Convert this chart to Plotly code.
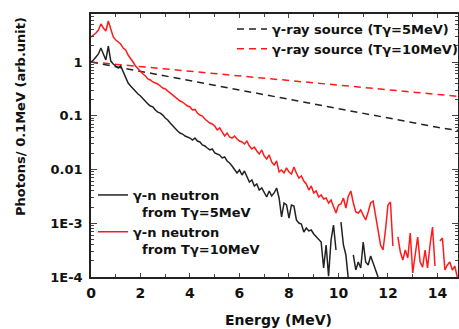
import numpy as np
import plotly.graph_objects as go

# Energy grid for neutron spectra (MeV)
energy = [round(0.1 * i, 1) for i in range(149)]

# gamma-n neutron spectrum, T_gamma = 10 MeV (red)
neutron_10 = [
    2.92, 3.18, 3.46, 3.94, 5.09, 4.29, 3.77, 5.79, 3.94, 2.92,
    2.57, 2.36, 2.16, 1.82, 1.67, 1.35, 1.19, 1.00, 0.843, 0.741,
    0.652, 0.598, 0.549, 0.483, 0.463, 0.425, 0.407, 0.390, 0.358, 0.328,
    0.315, 0.289, 0.265, 0.243, 0.223, 0.205, 0.188, 0.180, 0.166, 0.152,
    0.146, 0.128, 0.131, 0.112, 0.103, 0.0989, 0.0870, 0.0798, 0.0733, 0.0702,
    0.0645, 0.0543, 0.0592, 0.0499, 0.0420, 0.0478, 0.0402, 0.0385, 0.0420, 0.0369,
    0.0339, 0.0325, 0.0298, 0.0339, 0.0274, 0.0241, 0.0262, 0.0221, 0.0194, 0.0231,
    0.0178, 0.0157, 0.0186, 0.0138, 0.0121, 0.0144, 0.00898, 0.00979, 0.00861, 0.0107,
    0.00898, 0.00824, 0.0111, 0.00861, 0.00695, 0.00757, 0.00611, 0.00537, 0.00415, 0.00493,
    0.00366, 0.00398, 0.00308, 0.00336, 0.00283, 0.00295, 0.00238, 0.00271, 0.00209, 0.00155,
    0.00219, 0.00228, 0.00295, 0.00192, 0.00322, 0.00398, 0.00238, 0.00162, 0.00155, 0.00177,
    0.00142, 0.00115, 0.00162, 0.00238, 0.00259, 0.00125, 0.000748, 0.000394, 0.000318, 0.000748,
    0.00219, 0.00248, 0.000378, None, 0.000555, 0.000292, 0.000207, 0.000318, 0.000226, 0.000659,
    0.000119, 0.000257, 0.000555, 0.000190, 0.000153, 0.000318, 0.000147, 0.000394, 0.000851, 0.000160,
    None, 0.000468, 0.000532, 0.000135, 0.000167, 0.000190, 0.000135, 0.000160, 0.000100,
]

# gamma-n neutron spectrum, T_gamma = 5 MeV (black)
neutron_5 = [
    1.00, 1.09, 1.24, 1.41, 1.82, 1.35, 1.09, 1.98, 1.04, 0.918,
    0.843, 0.773, 0.843, 0.652, 0.504, 0.407, 0.358, 0.315, 0.277, 0.254,
    0.233, 0.205, 0.188, 0.166, 0.152, 0.146, 0.128, 0.117, 0.112, 0.103,
    0.0908, 0.0833, 0.0733, 0.0645, 0.0592, 0.0520, 0.0478, 0.0457, 0.0420, 0.0402,
    0.0385, 0.0354, 0.0385, 0.0339, 0.0325, 0.0286, 0.0274, 0.0251, 0.0231, 0.0241,
    0.0203, 0.0194, 0.0186, 0.0164, 0.0171, 0.0144, 0.0132, 0.0116, 0.00979, 0.00861,
    0.00979, 0.00790, 0.00938, 0.00725, 0.00585, 0.00638, 0.00493, 0.00537, 0.00415, 0.00453,
    0.00366, 0.00308, 0.00398, 0.00322, 0.00366, 0.00453, 0.00295, 0.00131, 0.00238, 0.00219,
    0.00125, 0.00219, 0.00209, 0.00115, 0.00101, 0.000968, 0.000688, 0.000816, 0.000718, 0.000748,
    0.000631, 0.000555, 0.000488, 0.000448, 0.000147, 0.000394, 0.000104, 0.000488, 0.000927, 0.000318,
    None, 0.00105, 0.000394, 0.000257, 0.00009, None, 0.000257, 0.000135, 0.000190, 0.000147,
    0.000448, 0.000190, 0.000167, 0.000246, 0.000182, 0.000135, 0.000100, None, None, None,
    None, None, None, None, None, None, None, None, None, None,
    None, None, None, None, None, None, None, None, None, None,
    None, None, None, None, None, None, None, None, None,
]

# gamma-ray source spectra (dashed)
source_energy = [0, 2, 4, 6, 8, 10, 12, 14, 14.83]
source_5 = [1.0, 0.67, 0.45, 0.30, 0.20, 0.135, 0.091, 0.061, 0.053]
source_10 = [1.0, 0.82, 0.67, 0.55, 0.45, 0.37, 0.30, 0.25, 0.23]

y_tickvals = [1e-4, 1e-3, 1e-2, 1e-1, 1]
y_ticktext = ["1E-4", "1E-3", "0.01", "0.1", "1"]
y_minor_vals = [m * d for d in [1e-4, 1e-3, 1e-2, 1e-1, 1] for m in range(2, 10)]
x_tickvals = [0, 2, 4, 6, 8, 10, 12, 14]

FONT = "DejaVu Sans"
RED = "#ff1a1a"
BLACK = "#222222"

fig = go.Figure()
fig.add_trace(go.Scatter(x=source_energy, y=source_5, mode="lines",
                         line=dict(color=BLACK, width=1.5, dash="7px,5px"),
                         name="γ-ray source (Tγ=5MeV)", legend="legend"))
fig.add_trace(go.Scatter(x=source_energy, y=source_10, mode="lines",
                         line=dict(color=RED, width=1.5, dash="7px,5px"),
                         name="γ-ray source (Tγ=10MeV)", legend="legend"))
fig.add_trace(go.Scatter(x=energy, y=neutron_5, mode="lines",
                         line=dict(color=BLACK, width=1.5), connectgaps=False,
                         name="γ-n neutron<br>\u00a0\u00a0from Tγ=5MeV", legend="legend2"))
fig.add_trace(go.Scatter(x=energy, y=neutron_10, mode="lines",
                         line=dict(color=RED, width=1.5), connectgaps=False,
                         name="γ-n neutron<br>\u00a0\u00a0from Tγ=10MeV", legend="legend2"))

PL, PR, PT, PB = 91, 458, 14, 277
W, H = 459, 329

fig.update_layout(
    width=W, height=H,
    margin=dict(l=PL, r=W - PR, t=PT, b=H - PB, pad=0, autoexpand=False),
    paper_bgcolor="white", plot_bgcolor="white",
    font=dict(family=FONT, size=13, color="#111111", weight="bold"),
    showlegend=True,
    legend=dict(x=(232 - PL) / (PR - PL), xanchor="left", y=1.0, yanchor="top",
                bgcolor="rgba(0,0,0,0)", font=dict(size=13, family=FONT, weight="bold"),
                tracegroupgap=0, itemwidth=30),
    legend2=dict(x=(93 - PL) / (PR - PL), xanchor="left", y=(PB - 180) / (PB - PT), yanchor="top",
                 bgcolor="rgba(0,0,0,0)", font=dict(size=13, family=FONT, weight="bold"),
                 valign="top", tracegroupgap=0, itemwidth=30),
    xaxis=dict(range=[0, 14.83], tickvals=x_tickvals, ticks="inside", ticklen=4,
               tickwidth=1, tickcolor="#444", showline=True, linecolor="#222", linewidth=1.5,
               mirror="ticks", showgrid=False, zeroline=False,
               minor=dict(dtick=1, ticks="inside", ticklen=3, tickcolor="#444", showgrid=False),
               tickfont=dict(size=14, family=FONT, weight="bold"), ticklabelstandoff=2),
    yaxis=dict(type="log", range=[-4, 0.893], tickvals=y_tickvals, ticktext=y_ticktext,
               ticks="inside", ticklen=6, tickwidth=1, tickcolor="#444",
               showline=True, linecolor="#222", linewidth=1.5, mirror="ticks",
               showgrid=False, zeroline=False,
               minor=dict(tickmode="array", tickvals=y_minor_vals, ticks="inside", ticklen=3,
                          tickcolor="#444", showgrid=False),
               tickfont=dict(size=13, family=FONT, weight="bold"), ticklabelstandoff=4),
    annotations=[
        dict(text="Energy (MeV)", xref="paper", yref="paper",
             x=(278 - PL) / (PR - PL), y=(PB - 320) / (PB - PT),
             xanchor="center", yanchor="middle",
             showarrow=False, font=dict(size=14, family=FONT, weight="bold")),
        dict(text="Photons/ 0.1MeV (arb.unit)", xref="paper", yref="paper",
             x=(20 - PL) / (PR - PL), y=(PB - 117) / (PB - PT), textangle=-90,
             xanchor="center", yanchor="middle",
             showarrow=False, font=dict(size=13, family=FONT, weight="bold")),
    ],
)

fig.write_html("out.html", config={"displayModeBar": False},
               post_script="document.body.style.margin='0';")
